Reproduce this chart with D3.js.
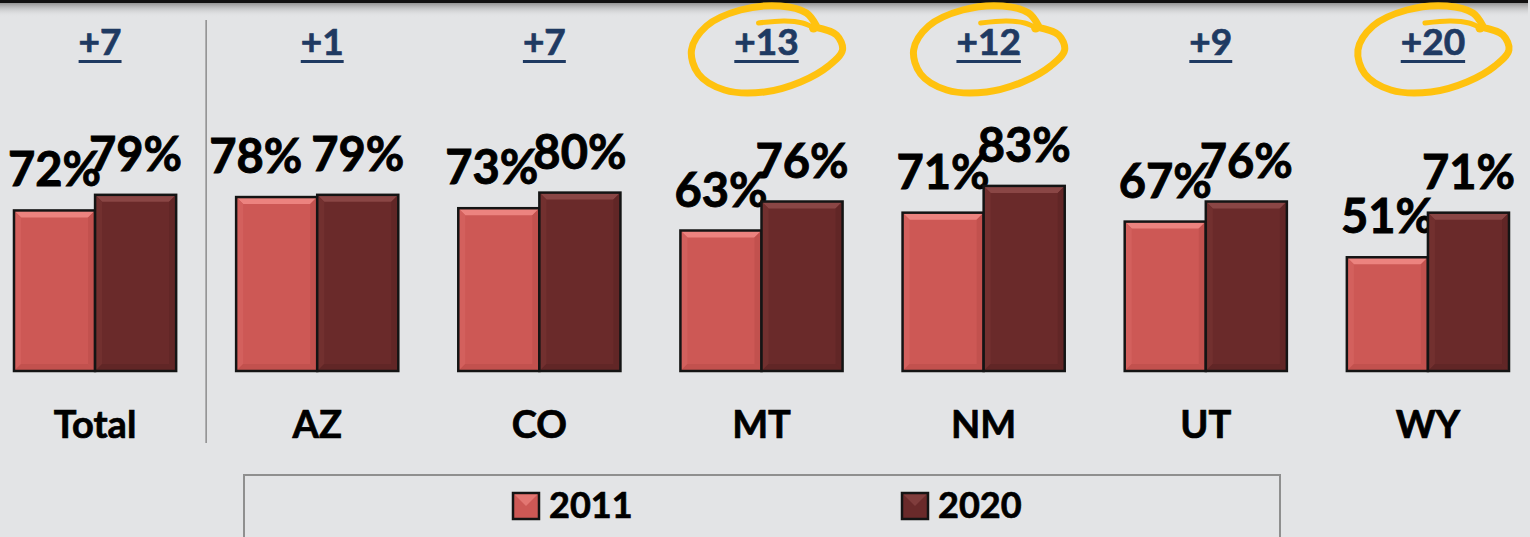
<!DOCTYPE html>
<html>
<head>
<meta charset="utf-8">
<script src="https://cdn.jsdelivr.net/npm/d3@7/dist/d3.min.js"></script>
<style>
  html, body { margin: 0; padding: 0; background: #e3e4e6; overflow: hidden; }
  svg { display: block; font-family: Lato, "Open Sans", sans-serif; }
</style>
</head>
<body>
<svg id="chart"></svg>
<script>
// --- Data ---
const categories = ["Total", "AZ", "CO", "MT", "NM", "UT", "WY"];
const seriesNames = ["2011", "2020"];
const values2011 = [72, 78, 73, 63, 71, 67, 51];
const values2020 = [79, 79, 80, 76, 83, 76, 71];
const deltaLabels = ["+7", "+1", "+7", "+13", "+12", "+9", "+20"];
const circled = ["MT", "NM", "WY"];

// labels that were nudged by hand in the original slide
const labelNudge = { "AZ-2011": -21, "CO-2011": -7 };

// --- Dimensions ---
const width = 1530;
const height = 537;
const baseline = 371;

const svg = d3.select("#chart").attr("width", width).attr("height", height);

const colors = { "2011": "#cd5855", "2020": "#6a2a2a" };
const bevelTop = { "2011": "#ec837f", "2020": "#8a4645" };
const bevelSide = { "2011": "#d3605d", "2020": "#72302f" };
const bevelBottom = { "2011": "#c2514e", "2020": "#612626" };

const x = d3.scaleBand()
  .domain(categories)
  .range([-16, 1539])
  .paddingInner(0.27)
  .paddingOuter(0.135);

const xs = d3.scaleBand().domain(seriesNames).range([0, x.bandwidth()]);

const y = d3.scaleLinear().domain([0, 100]).range([baseline, baseline - 223]);

const rows = categories.map((c, i) => ({
  cat: c,
  delta: deltaLabels[i],
  vals: [
    { cat: c, key: "2011", v: values2011[i] },
    { cat: c, key: "2020", v: values2020[i] }
  ]
}));

// Top frame edge with shadow
const defs = svg.append("defs");
const sh = defs.append("linearGradient").attr("id", "topShadow")
  .attr("x1", 0).attr("y1", 0).attr("x2", 0).attr("y2", 1);
sh.append("stop").attr("offset", 0).attr("stop-color", "#8a8a8a").attr("stop-opacity", 0.9);
sh.append("stop").attr("offset", 1).attr("stop-color", "#e3e4e6").attr("stop-opacity", 0);

svg.append("rect").attr("x", 0).attr("y", 3).attr("width", 1528).attr("height", 14)
  .attr("fill", "url(#topShadow)");
svg.append("rect").attr("x", 0).attr("y", 0).attr("width", 1528).attr("height", 3)
  .attr("fill", "#111");

// Separator between Total and the states
const sepX = (x("Total") + x.bandwidth() + x("AZ")) / 2;
svg.append("line")
  .attr("x1", sepX).attr("x2", sepX)
  .attr("y1", 20).attr("y2", 443)
  .attr("stroke", "#8c8c8c").attr("stroke-width", 1.5);

// --- Bars ---
const groups = svg.selectAll(".grp").data(rows).enter()
  .append("g").attr("class", "grp")
  .attr("transform", d => `translate(${x(d.cat)},0)`);

const bars = groups.selectAll(".bar").data(d => d.vals).enter()
  .append("g").attr("class", "bar");

const bev = 7;
bars.each(function (d) {
  const g = d3.select(this);
  const x0 = xs(d.key), w = xs.bandwidth();
  const y0 = y(d.v), y1 = baseline;
  g.append("rect")
    .attr("x", x0).attr("y", y0).attr("width", w).attr("height", y1 - y0)
    .attr("fill", colors[d.key]);
  // bevel faces
  g.append("polygon")
    .attr("points", [[x0, y0], [x0 + w, y0], [x0 + w - bev, y0 + bev], [x0 + bev, y0 + bev]].join(" "))
    .attr("fill", bevelTop[d.key]);
  g.append("polygon")
    .attr("points", [[x0, y0], [x0 + bev, y0 + bev], [x0 + bev, y1 - bev], [x0, y1]].join(" "))
    .attr("fill", bevelSide[d.key]);
  g.append("polygon")
    .attr("points", [[x0 + w, y0], [x0 + w - bev, y0 + bev], [x0 + w - bev, y1 - bev], [x0 + w, y1]].join(" "))
    .attr("fill", bevelBottom[d.key]);
  g.append("polygon")
    .attr("points", [[x0, y1], [x0 + bev, y1 - bev], [x0 + w - bev, y1 - bev], [x0 + w, y1]].join(" "))
    .attr("fill", bevelBottom[d.key]);
  g.append("rect")
    .attr("x", x0).attr("y", y0).attr("width", w).attr("height", y1 - y0)
    .attr("fill", "none").attr("stroke", "#141414").attr("stroke-width", 2.5);
});

// Value labels
bars.append("text")
  .attr("x", d => xs(d.key) + xs.bandwidth() / 2 + (labelNudge[d.cat + "-" + d.key] || 0))
  .attr("y", d => y(d.v) - 24)
  .attr("text-anchor", "middle")
  .attr("font-size", 47)
  .attr("font-weight", 700)
  .attr("fill", "#000")
  .attr("stroke", "#000").attr("stroke-width", 0.9)
  .text(d => d.v + "%");

// Category labels
groups.append("text")
  .attr("x", x.bandwidth() / 2)
  .attr("y", 438)
  .attr("text-anchor", "middle")
  .attr("font-size", 38)
  .attr("font-weight", 700)
  .attr("fill", "#000")
  .attr("stroke", "#000").attr("stroke-width", 0.7)
  .text(d => d.cat);

// Delta labels (underlined)
const deltaG = groups.append("g")
  .attr("transform", `translate(${x.bandwidth() / 2 + 5},0)`);

deltaG.append("text")
  .attr("class", "delta")
  .attr("x", 0).attr("y", 55)
  .attr("text-anchor", "middle")
  .attr("font-size", 37)
  .attr("font-weight", 700)
  .attr("fill", "#1f3a62")
  .attr("stroke", "#1f3a62").attr("stroke-width", 0.7)
  .text(d => d.delta);

deltaG.each(function () {
  const g = d3.select(this);
  const bb = g.select("text").node().getBBox();
  g.append("rect")
    .attr("x", bb.x).attr("y", 60).attr("width", bb.width).attr("height", 3)
    .attr("fill", "#1f3a62");
});

// Hand-drawn highlight circles
const loopPts = [[48, 27], [70, 35], [76, 50], [62, 66], [34, 82], [-2, 92], [-42, 90], [-68, 74], [-75, 50],
  [-60, 26], [-26, 10], [14, 6], [40, 13], [50, 26]];
const loop = d3.line().curve(d3.curveCatmullRom.alpha(0.5));

deltaG.filter(d => circled.includes(d.cat)).each(function () {
  const g = d3.select(this);
  g.append("path")
    .attr("d", loop(loopPts))
    .attr("fill", "none").attr("stroke", "#ffc20f")
    .attr("stroke-width", 7).attr("stroke-linecap", "round").attr("stroke-linejoin", "round");
  g.append("path")
    .attr("d", loop([[-8, 23], [18, 21], [36, 23], [48, 28]]))
    .attr("fill", "none").attr("stroke", "#ffc20f")
    .attr("stroke-width", 5).attr("stroke-linecap", "round");
  g.append("circle").attr("cx", 47).attr("cy", 28).attr("r", 4.5).attr("fill", "#ffc20f");
});

// --- Legend ---
svg.append("rect")
  .attr("x", 244).attr("y", 475).attr("width", 1036).attr("height", 80)
  .attr("fill", "none").attr("stroke", "#8f8f8f").attr("stroke-width", 2);

const legendX = [513, 902];
const leg = svg.selectAll(".leg").data(seriesNames).enter()
  .append("g").attr("class", "leg")
  .attr("transform", (d, i) => `translate(${legendX[i]},493)`);

leg.append("rect")
  .attr("x", 0).attr("y", 0).attr("width", 26).attr("height", 26)
  .attr("fill", d => colors[d]).attr("stroke", "#141414").attr("stroke-width", 2.5);
leg.append("polygon")
  .attr("points", "1.5,1.5 24.5,1.5 13,13")
  .attr("fill", d => bevelTop[d]).attr("opacity", 0.7);

leg.append("text")
  .attr("x", 36).attr("y", 25)
  .attr("font-size", 36)
  .attr("font-weight", 700)
  .attr("fill", "#000")
  .attr("stroke", "#000").attr("stroke-width", 0.7)
  .text(d => d);
</script>
</body>
</html>
